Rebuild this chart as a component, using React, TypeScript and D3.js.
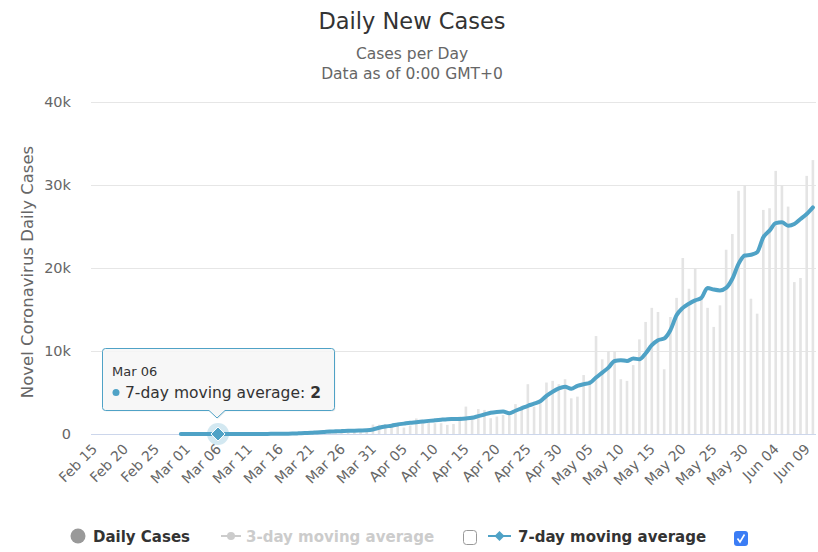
import * as d3 from "d3";

// categories: one per day, Feb 15 – Jun 10 2020
const days = d3.timeDay.range(new Date(2020, 1, 15), new Date(2020, 5, 11));
const fmt = d3.timeFormat("%b %d");
const categories = days.map((d) => fmt(d));

const tickLabels = [
  "Feb 15", "Feb 20", "Feb 25", "Mar 01", "Mar 06", "Mar 11", "Mar 16", "Mar 21",
  "Mar 26", "Mar 31", "Apr 05", "Apr 10", "Apr 15", "Apr 20", "Apr 25", "Apr 30",
  "May 05", "May 10", "May 15", "May 20", "May 25", "May 30", "Jun 04", "Jun 09",
];

const yTicks = [0, 10000, 20000, 30000, 40000];

// daily new cases (grey columns)
const dailyCases = [
  0, 0, 0, 0, 0, 0, 0, 0, 0, 0, 0, 1, 0, 0, 1, 0, 0, 0, 1, 6,
  5, 6, 6, 0, 9, 18, 25, 21, 23, 79, 34, 57, 137, 193, 283, 224, 418, 345, 310, 232,
  482, 502, 487, 352, 323, 1138, 1119, 1208, 1012, 1304, 770, 1031, 1873, 1400, 1700, 1300, 1300, 1100, 1200, 2100,
  3300, 2200, 3000, 2900, 1900, 2100, 2300, 2700, 3600, 3400, 6000, 3300, 3700, 6200, 6400, 6000, 6600, 4300, 4500, 7100,
  6500, 11800, 9000, 10000, 10000, 6600, 6400, 8300, 11400, 13500, 15200, 14700, 7800, 14100, 16400, 21200, 17500, 20000, 16500, 15200,
  12900, 15500, 22200, 24100, 29300, 30000, 16300, 14500, 27000, 27200, 31700, 30000, 27400, 18300, 18800, 31100, 33000,
];

// 7-day moving average, starting Feb 29
const avgStart = 14;
const avg7Values = [
  0, 0, 0, 0, 1, 1, 2, 3, 3, 3, 4, 7, 10, 12, 15, 25, 30, 37, 55, 80,
  115, 140, 190, 230, 300, 320, 350, 380, 400, 420, 450, 550, 750, 900, 1000, 1150, 1250, 1350, 1420, 1500,
  1580, 1650, 1720, 1780, 1800, 1820, 1870, 1950, 2150, 2350, 2550, 2650, 2700, 2500, 2800, 3100, 3400, 3650, 3950, 4600,
  5100, 5500, 5700, 5450, 5800, 6000, 6150, 6800, 7400, 8000, 8800, 8900, 8800, 9100, 9000, 9700, 10700, 11300, 11500, 12500,
  14300, 15200, 15700, 16100, 16400, 17600, 17400, 17300, 17600, 18700, 20500, 21500, 21600, 21900, 23700, 24500, 25400, 25500, 25100, 25300,
  25900, 26500, 27300,
];

const W = 818;
const H = 552;
const FONT = "'DejaVu Sans', Verdana, sans-serif";
const BLUE = "#4fa2c6";

export default function App() {
  const left = 91;
  const right = 816;
  const top = 102;
  const bottom = 434;

  const x = d3.scaleBand<string>().domain(categories).range([left, right]).padding(0);
  const cx = (c: string) => (x(c) as number) + x.bandwidth() / 2;
  const y = d3.scaleLinear().domain([0, 40000]).range([bottom, top]);

  const avgData = avg7Values.map((v, i) => ({ c: categories[avgStart + i], v }));
  const line = d3
    .line<{ c: string; v: number }>()
    .x((d) => cx(d.c))
    .y((d) => y(d.v))
    .curve(d3.curveMonotoneX);

  // hovered point
  const hov = avgData.find((d) => d.c === "Mar 06")!;
  const hx = cx(hov.c);
  const hy = y(hov.v);

  // tooltip box
  const tb = { x0: 102.5, y0: 348.5, x1: 334.5, y1: 410.5, r: 3 };
  const tipX = hx - 1;
  const tipY = 418;
  const tooltipPath = [
    `M${tb.x0 + tb.r},${tb.y0}`,
    `L${tb.x1 - tb.r},${tb.y0}`,
    `Q${tb.x1},${tb.y0} ${tb.x1},${tb.y0 + tb.r}`,
    `L${tb.x1},${tb.y1 - tb.r}`,
    `Q${tb.x1},${tb.y1} ${tb.x1 - tb.r},${tb.y1}`,
    `L${tipX + 8},${tb.y1}`,
    `L${tipX},${tipY}`,
    `L${tipX - 8},${tb.y1}`,
    `L${tb.x0 + tb.r},${tb.y1}`,
    `Q${tb.x0},${tb.y1} ${tb.x0},${tb.y1 - tb.r}`,
    `L${tb.x0},${tb.y0 + tb.r}`,
    `Q${tb.x0},${tb.y0} ${tb.x0 + tb.r},${tb.y0}`,
    "Z",
  ].join(" ");

  const diamond = (px: number, py: number, s: number) =>
    `M${px},${py - s} L${px + s},${py} L${px},${py + s} L${px - s},${py} Z`;

  const legendY = 536;

  return (
    <svg
      width={W}
      height={H}
      style={{ position: "absolute", left: 0, top: 0, display: "block", background: "#fff" }}
      fontFamily={FONT}
    >
      {/* titles */}
      <text x={412} y={29} textAnchor="middle" fontSize={22.5} fill="#333">
        Daily New Cases
      </text>
      <text x={412} y={59} textAnchor="middle" fontSize={15.5} fill="#666">
        Cases per Day
      </text>
      <text x={412} y={79} textAnchor="middle" fontSize={15.5} fill="#666">
        Data as of 0:00 GMT+0
      </text>

      {/* grid + y labels */}
      {yTicks.map((t) => (
        <g key={t}>
          {t > 0 && (
            <line x1={left} x2={right} y1={Math.round(y(t)) + 0.5} y2={Math.round(y(t)) + 0.5} stroke="#e6e6e6" />
          )}
          <text x={71} y={y(t) + 5} textAnchor="end" fontSize={14.5} fill="#666">
            {t === 0 ? "0" : `${t / 1000}k`}
          </text>
        </g>
      ))}
      <text
        transform={`translate(33,${(top + bottom) / 2 + 4}) rotate(-90)`}
        textAnchor="middle"
        fontSize={16.5}
        fill="#666"
      >
        Novel Coronavirus Daily Cases
      </text>

      {/* daily columns */}
      {dailyCases.map((v, i) => (
        <rect
          key={i}
          x={cx(categories[i]) - 1.3}
          y={y(v)}
          width={2.6}
          height={bottom - y(v)}
          fill="#e4e4e4"
        />
      ))}

      {/* x axis */}
      <line x1={left} x2={right} y1={bottom + 0.5} y2={bottom + 0.5} stroke="#ccd6eb" />
      {tickLabels.map((t) => (
        <text
          key={t}
          transform={`translate(${cx(t) + 4},${bottom + 16}) rotate(-45)`}
          textAnchor="end"
          fontSize={14}
          fill="#666"
        >
          {t}
        </text>
      ))}

      {/* 7-day line */}
      <path d={line(avgData) ?? ""} fill="none" stroke={BLUE} strokeWidth={4} strokeLinejoin="round" strokeLinecap="round" />

      {/* hover marker */}
      <circle cx={hx} cy={hy} r={11} fill={BLUE} opacity={0.25} />
      <path d={diamond(hx, hy, 7)} fill={BLUE} stroke="#fff" strokeWidth={1} />

      {/* tooltip */}
      <path d={tooltipPath} fill="#000" opacity={0.06} transform="translate(1,1)" />
      <path d={tooltipPath} fill="rgba(247,247,247,0.9)" stroke={BLUE} strokeWidth={1} />
      <text x={112} y={376} fontSize={13} fill="#333">
        Mar 06
      </text>
      <circle cx={116} cy={392.5} r={3.5} fill={BLUE} />
      <text x={125} y={398} fontSize={15.5} fill="#333">
        7-day moving average: <tspan fontWeight="bold">{hov.v}</tspan>
      </text>

      {/* legend */}
      <circle cx={78} cy={legendY} r={7.5} fill="#999" />
      <text x={93} y={legendY + 6} fontSize={15} fontWeight="bold" fill="#333">
        Daily Cases
      </text>

      <line x1={221} x2={241} y1={legendY} y2={legendY} stroke="#ccc" strokeWidth={2} />
      <circle cx={231} cy={legendY} r={4} fill="#ccc" />
      <text x={246} y={legendY + 6} fontSize={15} fontWeight="bold" fill="#ccc">
        3-day moving average
      </text>
      <rect x={463.5} y={530.5} width={13} height={14} rx={3} fill="#fff" stroke="#999" />

      <line x1={488} x2={511} y1={legendY} y2={legendY} stroke={BLUE} strokeWidth={2} />
      <path d={diamond(499.5, legendY, 5)} fill={BLUE} />
      <text x={518} y={legendY + 6} fontSize={15} fontWeight="bold" fill="#333">
        7-day moving average
      </text>
      <rect x={734} y={531} width={14} height={15} rx={3} fill="#3b7df5" />
      <path d="M737.5,538.5 L740,542 L744.5,534.5" fill="none" stroke="#fff" strokeWidth={1.6} />
    </svg>
  );
}
